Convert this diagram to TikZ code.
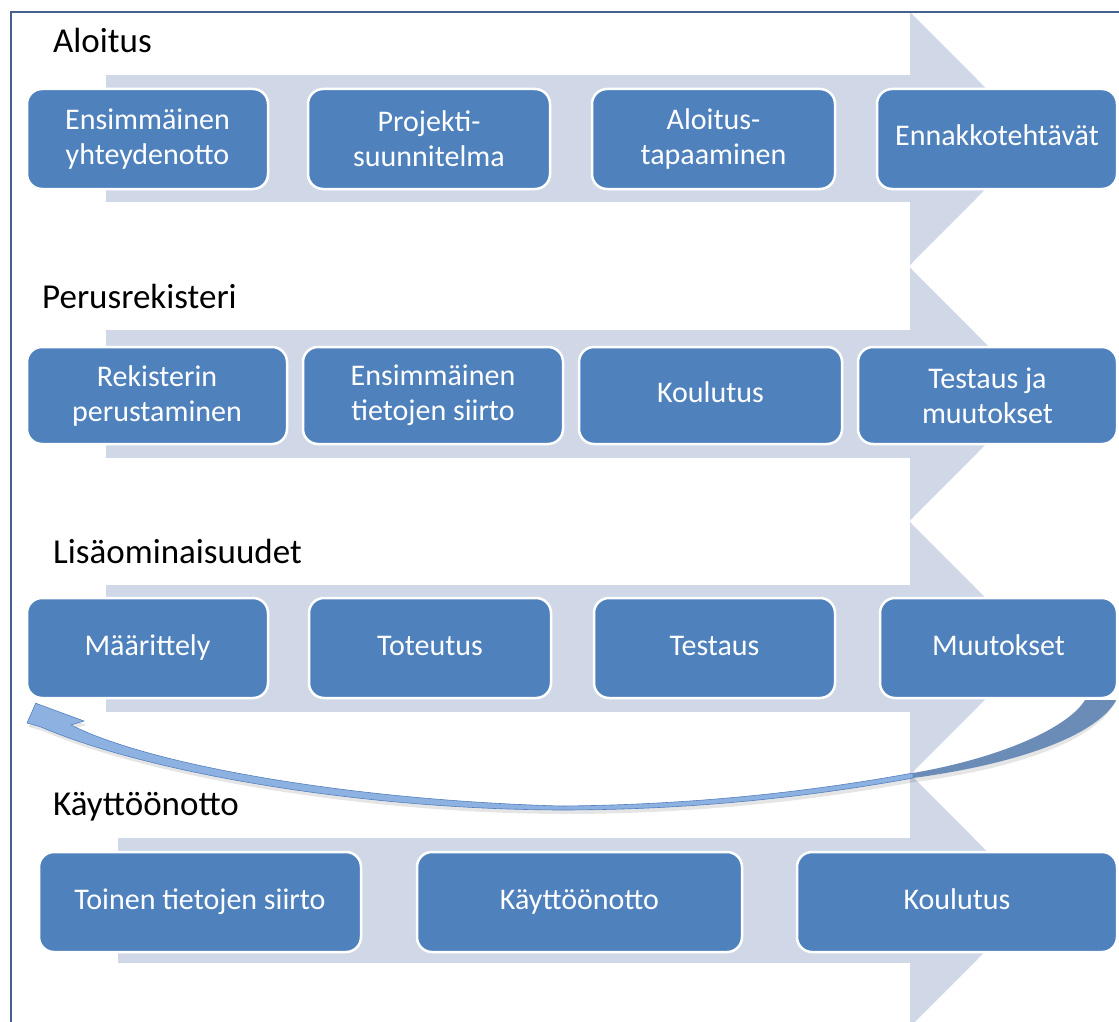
\documentclass[tikz,border=0pt]{standalone}
\usepackage{fontspec}
\setmainfont{Carlito}
\usetikzlibrary{backgrounds,calc}
\definecolor{boxblue}{RGB}{79,129,189}
\definecolor{bandcol}{RGB}{208,216,232}
\definecolor{framecol}{RGB}{68,98,140}
\definecolor{arrlight}{RGB}{141,178,226}
\definecolor{arredge}{RGB}{84,128,190}
\definecolor{arrdark}{RGB}{108,140,184}
\begin{document}
\begin{tikzpicture}[x=1pt,y=-1pt,
  stepbox/.style={draw=white, line width=2.5pt, fill=boxblue, rounded corners=15pt,
    text=white, align=center, font=\fontsize{30}{35}\selectfont, inner sep=0pt},
  oneline/.style={text height=20.5pt, text depth=6.5pt},
  phase/.style={anchor=base west, font=\fontsize{35}{40}\selectfont, text=black, inner sep=0pt},
  band/.style={fill=bandcol, draw=none},
  frameline/.style={draw=framecol, line width=2pt}]
\useasboundingbox (0,0) rectangle (1119,1022);

% phase titles
\node[phase] (t1) at (53,53) {Aloitus};
\node[phase] (t2) at (42,308) {Perusrekisteri};
\node[phase] (t3) at (53,563) {Lisäominaisuudet};
\node[phase] (t4) at (53,815) {Käyttöönotto};

% row 1
\node[stepbox, minimum width=241pt, minimum height=100pt] (a1) at (147.5,139) {Ensimmäinen\\yhteydenotto};
\node[stepbox, minimum width=242pt, minimum height=100pt] (a2) at (429,139) {Projekti-\\suunnitelma};
\node[stepbox, minimum width=243pt, minimum height=100pt] (a3) at (713.5,139) {Aloitus-\\tapaaminen};
\node[stepbox, oneline, minimum width=240pt, minimum height=100pt] (a4) at (997,139) {Ennakkotehtävät};

% row 2
\node[stepbox, minimum width=260pt, minimum height=97pt] (b1) at (157,395.5) {Rekisterin\\perustaminen};
\node[stepbox, minimum width=260pt, minimum height=97pt] (b2) at (433,395.5) {Ensimmäinen\\tietojen siirto};
\node[stepbox, oneline, minimum width=263pt, minimum height=97pt] (b3) at (710.5,395.5) {Koulutus};
\node[stepbox, minimum width=259pt, minimum height=97pt] (b4) at (987.5,395.5) {Testaus ja\\muutokset};

% row 3
\node[stepbox, oneline, minimum width=241pt, minimum height=100pt] (c1) at (147.5,648) {Määrittely};
\node[stepbox, oneline, minimum width=242pt, minimum height=100pt] (c2) at (430,648) {Toteutus};
\node[stepbox, oneline, minimum width=241pt, minimum height=100pt] (c3) at (714.5,648) {Testaus};
\node[stepbox, oneline, minimum width=237pt, minimum height=100pt] (c4) at (998.5,648) {Muutokset};

% row 4
\node[stepbox, oneline, minimum width=322pt, minimum height=100pt] (d1) at (200,902) {Toinen tietojen siirto};
\node[stepbox, oneline, minimum width=325pt, minimum height=100pt] (d2) at (579.5,902) {Käyttöönotto};
\node[stepbox, oneline, minimum width=320pt, minimum height=100pt] (d3) at (957,902) {Koulutus};

\begin{scope}[on background layer]
  % bands with arrow heads
  \fill[band] (106,75) rectangle (910,202);
  \fill[band] (910,12) -- (1036,138.5) -- (910,265) -- cycle;
  \fill[band] (106,330) rectangle (910,458);
  \fill[band] (910,267.5) -- (1036,394) -- (910,520.5) -- cycle;
  \fill[band] (106,585) rectangle (910,712);
  \fill[band] (910,522) -- (1036,648.5) -- (910,775) -- cycle;
  \fill[band] (118,838) rectangle (910,963);
  \fill[band] (910,774) -- (1036,900.5) -- (910,1027) -- cycle;

  % curved return arrow from Muutokset to Määrittely
  \coordinate (rs) at ($(c4.south east)+(-2,1)$);
  \coordinate (rt) at ($(c1.south west)+(10,4)$);
  \begin{scope}[shift={(2,4)}]
    \fill[black, opacity=0.10] (rs) .. controls (1095,738) and (1010,765) .. (913,778)
      .. controls (820,795) and (700,810) .. (560,810)
      .. controls (350,809) and (140,770) .. (41,727) -- (27,723) -- (rt) -- (84,721) -- (71,725)
      .. controls (150,765) and (350,800) .. (560,806)
      .. controls (700,805) and (820,790) .. (913,773)
      .. controls (1000,758) and (1068,728) .. (1085,700) -- cycle;
  \end{scope}
  \fill[arrdark] (rs) .. controls (1095,738) and (1010,765) .. (913,778) -- (913,773)
    .. controls (1000,758) and (1068,728) .. (1085,700) -- cycle;
  \fill[arrlight, draw=arredge, line width=0.6pt] (913,773)
    .. controls (820,790) and (700,805) .. (560,806)
    .. controls (350,800) and (150,765) .. (71,725) -- (84,721) -- (rt) -- (27,723) -- (41,727)
    .. controls (140,770) and (350,809) .. (560,810)
    .. controls (700,810) and (820,795) .. (913,778) -- cycle;
\end{scope}

% frame
\draw[frameline] (11,1022) -- (11,12) -- (1119,12);
\end{tikzpicture}
\end{document}
